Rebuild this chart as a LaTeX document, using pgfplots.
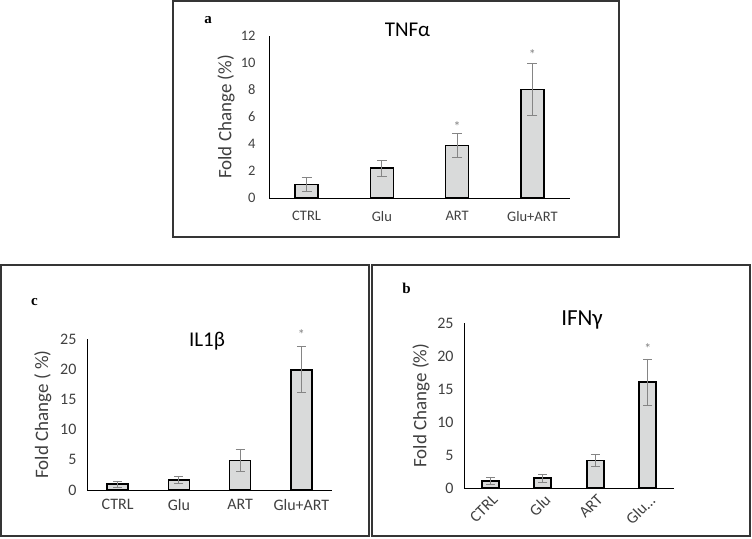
\documentclass[border=0pt]{standalone}
\usepackage{fontspec}
\setmainfont{Carlito}
\newfontfamily\labfont{Liberation Serif}
\usepackage{pgfplots}
\pgfplotsset{compat=1.18}
\definecolor{barfill}{HTML}{D9DADA}
\definecolor{errc}{HTML}{858585}
\definecolor{txt}{HTML}{404040}
\definecolor{boxc}{HTML}{353535}

\pgfplotsset{
  mybar/.style={
    scale only axis, anchor=south west, clip=false,
    ybar,
    axis x line*=bottom, axis y line*=left,
    axis line style={black, line width=0.9pt, -},
    xmin=-0.5, xmax=3.5, ymin=0,
    xtick={0,1,2,3}, major tick length=0pt,
    tick label style={text=txt},
    /pgf/number format/assume math mode=true,
    ylabel style={text=txt, anchor=center},
    every axis title/.style={text=black, anchor=base},
  },
  barplot/.style={fill=barfill, draw=black, line width=1.6pt, bar shift=0pt,
    error bars/.cd, y dir=both, y explicit,
    error bar style={errc, line width=0.8pt, solid},
    error mark options={errc, rotate=90, mark size=#1, line width=0.8pt}},
}
\newcommand{\fs}[1]{\fontsize{#1}{#1}\selectfont}

\begin{document}
\begin{tikzpicture}
\useasboundingbox (0pt,0pt) rectangle (752pt,538pt);
% boxes
\draw[boxc, line width=1.8pt] (173pt,537pt) rectangle (619pt,301pt);
\draw[boxc, line width=1.8pt] (1pt,273pt) rectangle (369pt,2pt);
\draw[boxc, line width=1.8pt] (372pt,273pt) rectangle (750pt,2pt);
% panel letters
\node[font=\labfont\bfseries\fs{15}] at (208pt,517.5pt) {a};
\node[font=\labfont\bfseries\fs{15}] at (34.5pt,236pt) {c};
\node[font=\labfont\bfseries\fs{15}] at (406.5pt,250pt) {b};

% ---- a: TNF alpha
\begin{axis}[mybar, at={(269pt,340pt)}, width=301pt, height=162pt,
  ymax=12, ytick={0,2,...,12}, bar width=23pt,
  xticklabels={CTRL,Glu,ART,Glu+ART},
  tick label style={font=\fs{14.5}},
  yticklabel style={xshift=-10pt},
  xticklabel style={yshift=-10pt},
  ylabel={\fs{19}Fold Change (\%)},
  ylabel style={at={(axis description cs:-0.143,0.5)}},
  title={\fs{21}TNFα},
  title style={at={(axis description cs:0.46,1)}, yshift=-1pt},
]
\addplot[barplot=5pt] coordinates {
  (0,1.0) +- (0,0.5)
  (1,2.2) +- (0,0.6)
  (2,3.9) +- (0,0.9)
  (3,8.05) +- (0,1.9)
};
\node[text=errc, font=\fs{14}] at (axis cs:2,5.3) {*};
\node[text=errc, font=\fs{14}] at (axis cs:3,10.6) {*};
\end{axis}

% ---- c: IL1 beta
\begin{axis}[mybar, at={(87pt,48pt)}, width=245pt, height=151pt,
  ymax=25, ytick={0,5,...,25}, bar width=21pt,
  xticklabels={CTRL,Glu,ART,Glu+ART},
  tick label style={font=\fs{16}},
  yticklabel style={xshift=-7pt},
  xticklabel style={yshift=-6pt},
  ylabel={\fs{19}Fold Change ( \%)},
  ylabel style={at={(axis description cs:-0.18,0.5)}},
  title={\fs{21}IL1β},
  title style={at={(axis description cs:0.49,1)}, yshift=-7pt},
]
\addplot[barplot=4.5pt] coordinates {
  (0,1.0) +- (0,0.5)
  (1,1.7) +- (0,0.6)
  (2,4.9) +- (0,1.9)
  (3,19.9) +- (0,3.8)
};
\node[text=errc, font=\fs{14}] at (axis cs:3,25.8) {*};
\end{axis}

% ---- b: IFN gamma
\begin{axis}[mybar, at={(464pt,49.7pt)}, width=210pt, height=165pt,
  ymax=25, ytick={0,5,...,25}, bar width=17pt,
  xticklabels={CTRL,Glu,ART,Glu.{}.{}.},
  tick label style={font=\fs{16}},
  yticklabel style={xshift=-7pt},
  xticklabel style={inner sep=0pt, xshift=1pt, yshift=-5pt, rotate=45, anchor=north east},
  ylabel={\fs{19}Fold Change (\%)},
  ylabel style={at={(axis description cs:-0.205,0.5)}},
  title={\fs{23}IFNγ},
  title style={at={(axis description cs:0.562,1)}, yshift=-2pt},
]
\addplot[barplot=4.5pt] coordinates {
  (0,1.1) +- (0,0.55)
  (1,1.55) +- (0,0.6)
  (2,4.2) +- (0,0.9)
  (3,16.1) +- (0,3.5)
};
\node[text=errc, font=\fs{14}] at (axis cs:3,21.2) {*};
\end{axis}
\end{tikzpicture}
\end{document}
